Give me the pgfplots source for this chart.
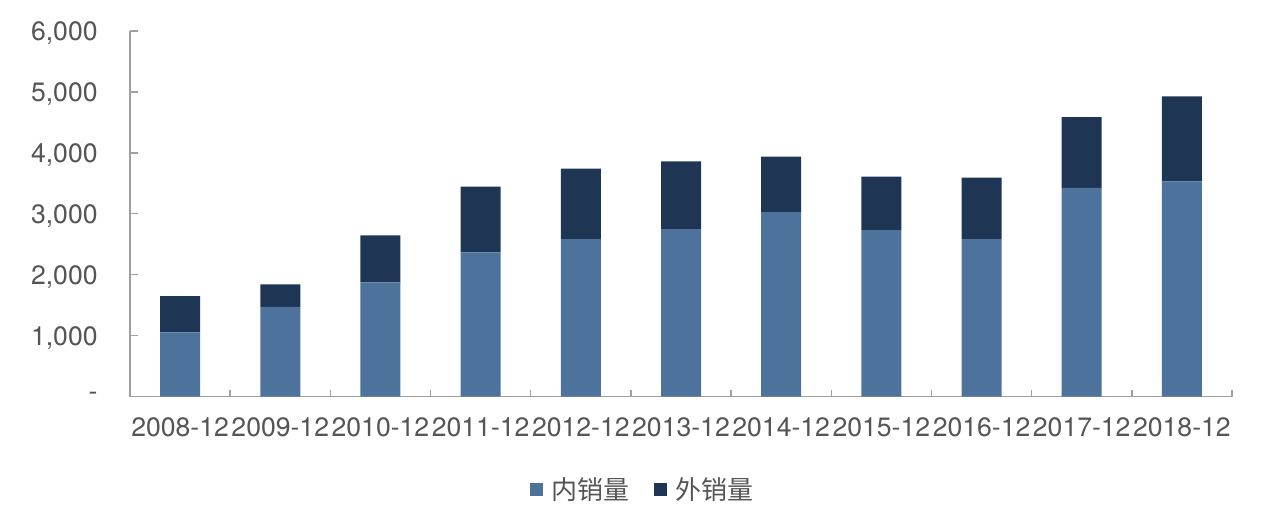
\documentclass[border=0pt]{standalone}
\usepackage{fontspec}
\setmainfont{TeX Gyre Heros}
\newfontfamily\cjk{Noto Sans CJK SC}
\usepackage{pgfplots}
\pgfplotsset{compat=1.18}

\definecolor{inner}{RGB}{77,115,157}
\definecolor{outer}{RGB}{30,53,83}
\definecolor{axisgray}{RGB}{160,160,160}
\definecolor{txtgray}{RGB}{85,85,85}

\begin{document}
\begin{tikzpicture}
\path[use as bounding box] (-65bp,-67.75bp) rectangle (570bp,198.25bp);
\begin{axis}[
    scale only axis,
    width=551bp, height=182.75bp,
    ybar stacked,
    bar width=20bp,
    xmin=-0.5, xmax=10.5,
    ymin=0, ymax=6000,
    axis x line*=bottom,
    axis y line*=left,
    axis line style={axisgray, line width=0.75bp},
    tick align=inside,
    xtick={0,...,10},
    xticklabels={2008-12,2009-12,2010-12,2011-12,2012-12,2013-12,2014-12,2015-12,2016-12,2017-12,2018-12},
    major x tick style={draw=none},
    minor xtick={-0.5,0.5,...,10.5},
    minor x tick style={axisgray, line width=0.75bp},
    minor tick length=3.5bp,
    ytick={0,1000,...,6000},
    yticklabels={-,{1,000},{2,000},{3,000},{4,000},{5,000},{6,000}},
    y tick style={axisgray, line width=0.75bp},
    major tick length=4bp,
    tick label style={font=\fontsize{13.3bp}{15bp}\selectfont, text=txtgray, inner sep=0pt},
    xticklabel style={anchor=north, yshift=-10.25bp},
    yticklabel style={anchor=east, xshift=-16bp, text depth=0pt},
    legend style={at={(axis description cs:0.466,-0.256)}, anchor=center,
        draw=none, fill=none, legend columns=-1,
        font=\cjk\fontsize{13bp}{15bp}\selectfont, text=txtgray,
        /tikz/every odd column/.append style={column sep=2.5bp},
        /tikz/every even column/.append style={column sep=10bp}},
    legend image code/.code={\fill (0bp,-3bp) rectangle (6.5bp,3.5bp);},
]
\addplot[fill=inner, draw=none] coordinates {
    (0,1052) (1,1472) (2,1872) (3,2364) (4,2582) (5,2746)
    (6,3025) (7,2730) (8,2582) (9,3423) (10,3533)
};
\addplot[fill=outer, draw=none] coordinates {
    (0,596) (1,367) (2,771) (3,1082) (4,1159) (5,1115)
    (6,913) (7,880) (8,1011) (9,1164) (10,1393)
};
\legend{内销量,外销量}
\end{axis}
\end{tikzpicture}
\end{document}
